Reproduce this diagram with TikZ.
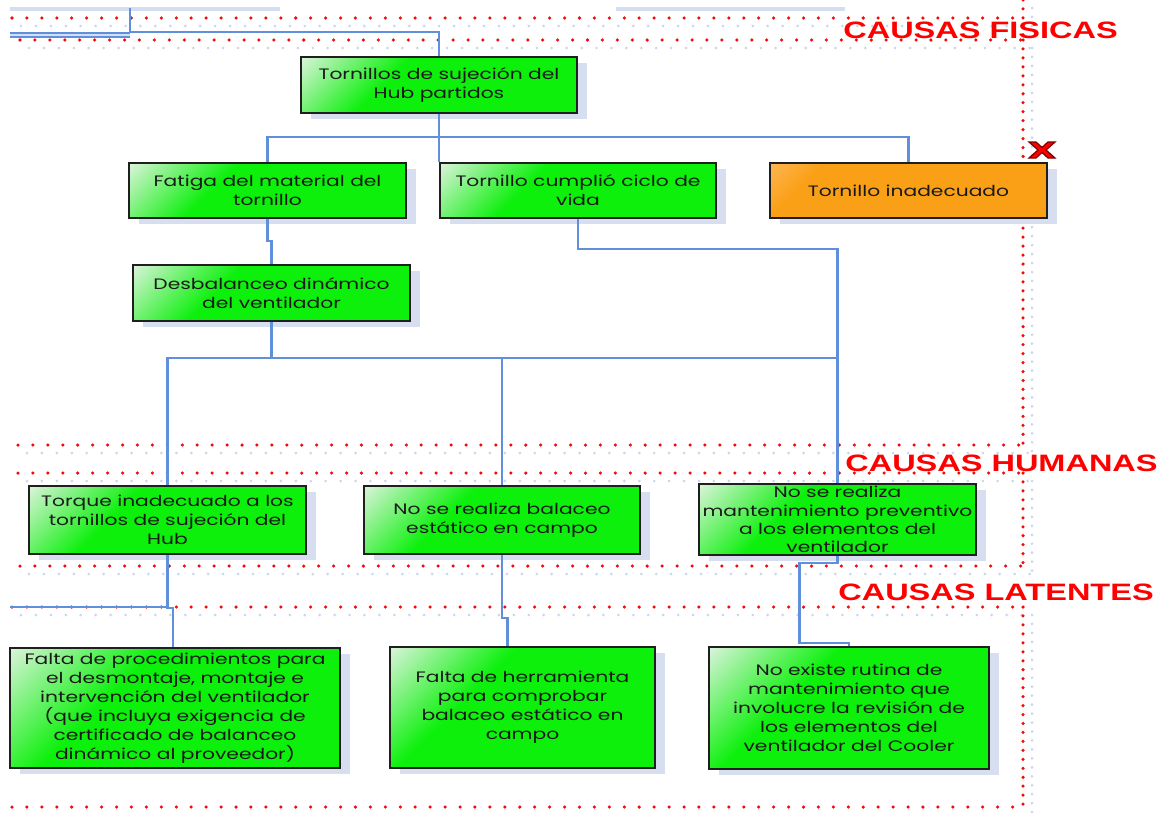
\documentclass[tikz,border=0pt]{standalone}
\usepackage{fontspec}
\newfontfamily\boxfont[FakeStretch=1.34]{Poppins}
\newfontfamily\headfont{Liberation Sans}
\usetikzlibrary{shadows,calc}

\definecolor{boxgreen}{RGB}{12,240,12}
\definecolor{boxlight}{RGB}{232,244,232}
\definecolor{boxorange}{RGB}{250,160,22}
\definecolor{orangelight}{RGB}{252,185,90}
\definecolor{wire}{RGB}{96,144,220}
\definecolor{wirepale}{RGB}{212,222,242}
\definecolor{dotred}{RGB}{240,12,12}
\definecolor{dotblue}{RGB}{202,215,238}
\definecolor{boxshadow}{RGB}{214,222,240}
\definecolor{xdark}{RGB}{120,0,0}

\pgfdeclarehorizontalshading{greenfade}{100bp}{color(0bp)=(boxlight); color(13bp)=(boxlight); color(38bp)=(boxgreen); color(100bp)=(boxgreen)}
\pgfdeclarehorizontalshading{orangefade}{100bp}{color(0bp)=(orangelight); color(13bp)=(orangelight); color(26bp)=(boxorange); color(100bp)=(boxorange)}

\begin{document}
\begin{tikzpicture}[x=0.02cm, y=-0.02cm,
  card/.style={draw=black!88, line width=1.1pt, shade, shading=greenfade, shading angle=-45,
    align=center, text=black!90, font=\boxfont\fontsize{8.6}{10.8}\selectfont, inner sep=1pt,
    drop shadow={shadow xshift=0.2cm, shadow yshift=-0.12cm, fill=boxshadow, opacity=1}},
  warn/.style={card, shading=orangefade},
  wire/.style={draw=wire, line width=1.4pt},
  head/.style={text=red, font=\headfont\bfseries\fontsize{13.5}{14}\selectfont, inner sep=0pt, anchor=west},
  reddots/.style={draw=dotred, line width=2pt, line cap=round, dash pattern=on 0pt off #1},
  bluedots/.style={draw=dotblue, line width=1.7pt, line cap=round, dash pattern=on 0pt off #1, shift={(9,8)}},
]
\useasboundingbox (0,0) rectangle (1173,812);
\fill[white] (0,0) rectangle (1173,812);

% pale traces at the upper edge
\draw[wirepale, line width=2pt] (10,9) -- (280,9);
\draw[wirepale, line width=2pt] (616,9) -- (845,9);

% dotted frames of the three cause bands
\foreach \y/\xa in {18/12, 40/20, 445/18, 473/18, 566/20, 607/12, 807/12}
  \draw[bluedots=8.5pt] (\xa,\y) -- (1023,\y);
\foreach \ya/\yb in {0/18, 40/445, 473/566, 607/807}
  \draw[bluedots=5.1pt] (1023,\ya) -- (1023,\yb);
\foreach \y/\xa in {18/12, 40/20, 445/18, 473/18, 566/20, 607/12, 807/12}
  \draw[reddots=8.5pt] (\xa,\y) -- (1023,\y);
\foreach \ya/\yb in {0/18, 40/445, 473/566, 607/807}
  \draw[reddots=5.1pt] (1023,\ya) -- (1023,\yb);

% connectors
\coordinate (busA) at (0,137);
\coordinate (busB) at (0,358);
\coordinate (topend) at (130,8);
\coordinate (topleft) at (10,35);
\coordinate (leftend) at (10,607);

% cause boxes
\node[card, minimum width=5.52cm, minimum height=1.12cm] (b1) at (439,85) {Tornillos de sujeción del\\Hub partidos};
\node[card, minimum width=5.54cm, minimum height=1.10cm] (b2) at (267.5,190.5) {Fatiga del material del\\tornillo};
\node[card, minimum width=5.52cm, minimum height=1.10cm] (b3) at (578,190.5) {Tornillo cumplió ciclo de\\vida};
\node[warn, minimum width=5.54cm, minimum height=1.10cm] (b4) at (908.5,190.5) {Tornillo inadecuado};
\node[card, minimum width=5.54cm, minimum height=1.12cm] (b5) at (271.5,293) {Desbalanceo dinámico\\del ventilador};
\node[card, minimum width=5.54cm, minimum height=1.36cm] (b6) at (167.5,520) {Torque inadecuado a los\\tornillos de sujeción del\\Hub};
\node[card, minimum width=5.52cm, minimum height=1.36cm] (b7) at (502,520) {No se realiza balaceo\\estático en campo};
\node[card, minimum width=5.54cm, minimum height=1.42cm, inner ysep=0pt,
      font=\boxfont\fontsize{8.6}{10.4}\selectfont] (b8) at (837.5,519.5) {No se realiza\\mantenimiento preventivo\\a los elementos del\\ventilador};
\node[card, minimum width=6.60cm, minimum height=2.40cm] (b9) at (175,708) {Falta de procedimientos para\\el desmontaje, montaje e\\intervención del ventilador\\(que incluya exigencia de\\certificado de balanceo\\dinámico al proveedor)};
\node[card, minimum width=5.30cm, minimum height=2.42cm] (b10) at (522.5,707.5) {Falta de herramienta\\para comprobar\\balaceo estático en\\campo};
\node[card, minimum width=5.60cm, minimum height=2.44cm] (b11) at (849,708) {No existe rutina de\\mantenimiento que\\involucre la revisión de\\los elementos del\\ventilador del Cooler};

\draw[wire] (b1.north) -- ++(0,-24) -| (topend);
\draw[wire, double=wirepale, double distance=1.2pt, line width=0.9pt] (topleft) -- (topend |- topleft);
\draw[wire] (b1.south) -- (b1.south |- busA);
\draw[wire] (b2.north) -- (b2.north |- busA) -- (b4.north |- busA) -- (b4.north);
\draw[wire] (b3.north west) -- (b3.north west |- busA);
\draw[wire] (b2.south) -- ++(0,22) -| (b5.north);
\draw[wire] (b3.south) -- ++(0,30) -| (b8.north);
\draw[wire] (b5.south) -- (b5.south |- busB);
\draw[wire] (b6.north) -- (b6.north |- busB) -- (b8.north |- busB);
\draw[wire] (b7.north) -- (b7.north |- busB);
\draw[wire] (b6.south) -- ++(0,53) -| ($(b9.north)+(-2,0)$);
\draw[wire] (leftend) -- (b6.south |- leftend);
\draw[wire] (b7.south) -- ++(0,63) -| ($(b10.north)+(-15,0)$);
\draw[wire] (b8.south) -- ++(0,7) -| ++(-38,80) -| (b11.north);

% discard mark on the rejected cause
\draw[fill=red, draw=xdark, line width=0.7pt, shift={(1042,150)}]
  (-13,-8) -- (-6,-8) -- (0,-2.5) -- (6,-8) -- (13,-8) -- (4,0) -- (13,8) -- (6,8)
  -- (0,2.5) -- (-6,8) -- (-13,8) -- (-4,0) -- cycle;

% band titles
\node[head] (hF) at (843,30) {\scalebox{1.37}[1]{CAUSAS FISICAS}};
\node[head] (hH) at (845,463.5) {\scalebox{1.37}[1]{CAUSAS HUMANAS}};
\node[head] (hL) at (838,592) {\scalebox{1.37}[1]{CAUSAS LATENTES}};
\end{tikzpicture}
\end{document}
